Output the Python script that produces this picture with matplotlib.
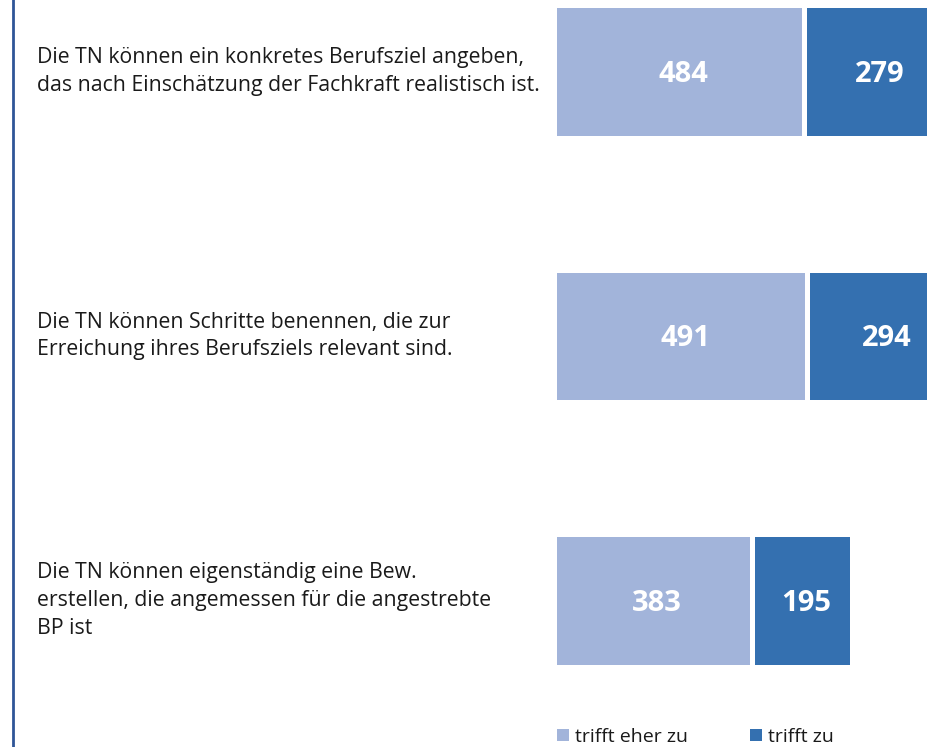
import matplotlib.pyplot as plt
from matplotlib.patches import Patch
from matplotlib.lines import Line2D
import matplotlib.transforms as mtransforms

# Data
labels = [
    "Die TN können ein konkretes Berufsziel angeben,\ndas nach Einschätzung der Fachkraft realistisch ist.",
    "Die TN können Schritte benennen, die zur\nErreichung ihres Berufsziels relevant sind.",
    "Die TN können eigenständig eine Bew.\nerstellen, die angemessen für die angestrebte\nBP ist",
]
eher_zu = [484, 491, 383]
zu = [279, 294, 195]
series_names = ["trifft eher zu", "trifft zu"]

c_light = "#A2B4DA"
c_dark = "#3470B0"

plt.rcParams['font.family'] = ['Open Sans', 'DejaVu Sans']

fig = plt.figure(figsize=(9.28, 7.47), dpi=100)
# axes runs past the right edge so the long bars get cut off like in the original
ax = fig.add_axes([554.5 / 928, 0, (1000 - 554.5) / 928, 1])

# top category at top
ypos = [2, 1, 0]
ax.barh(ypos, eher_zu, height=0.5, color=c_light, edgecolor="white", linewidth=3.6)
ax.barh(ypos, zu, left=eher_zu, height=0.5, color=c_dark, edgecolor="white", linewidth=3.6)

for y, a, b in zip(ypos, eher_zu, zu):
    ax.annotate(str(a), (a / 2, y), xytext=(3, -2), textcoords="offset points",
                ha="center", va="center", color="white", fontsize=21, fontweight="bold")
    ax.annotate(str(b), (a + b / 2, y), xytext=(3, -2), textcoords="offset points",
                ha="center", va="center", color="white", fontsize=21, fontweight="bold",
                annotation_clip=False)

ax.set_xlim(0, 865)
ax.set_ylim(-0.554, 2.270)
ax.axis("off")

# category labels on the left
trans = mtransforms.blended_transform_factory(fig.transFigure, ax.transData)
for y, lab in zip(ypos, labels):
    ax.text(37 / 928, y, lab, transform=trans, ha="left", va="center",
            fontsize=15.3, color="#1a1a1a", linespacing=1.41, clip_on=False)

# vertical rule on the left
fig.add_artist(Line2D([13 / 928, 13 / 928], [0, 1], color="#2F5597", lw=2,
                      transform=fig.transFigure))

handles = [Patch(facecolor=c_light), Patch(facecolor=c_dark)]
fig.legend(handles, series_names, loc="lower left", bbox_to_anchor=(540 / 928, -0.022),
           ncol=2, frameon=False, fontsize=14, handlelength=0.6, handleheight=0.6,
           handletextpad=0.3, columnspacing=3.2, labelcolor="#1a1a1a")

fig.savefig("out.png", dpi=100)
